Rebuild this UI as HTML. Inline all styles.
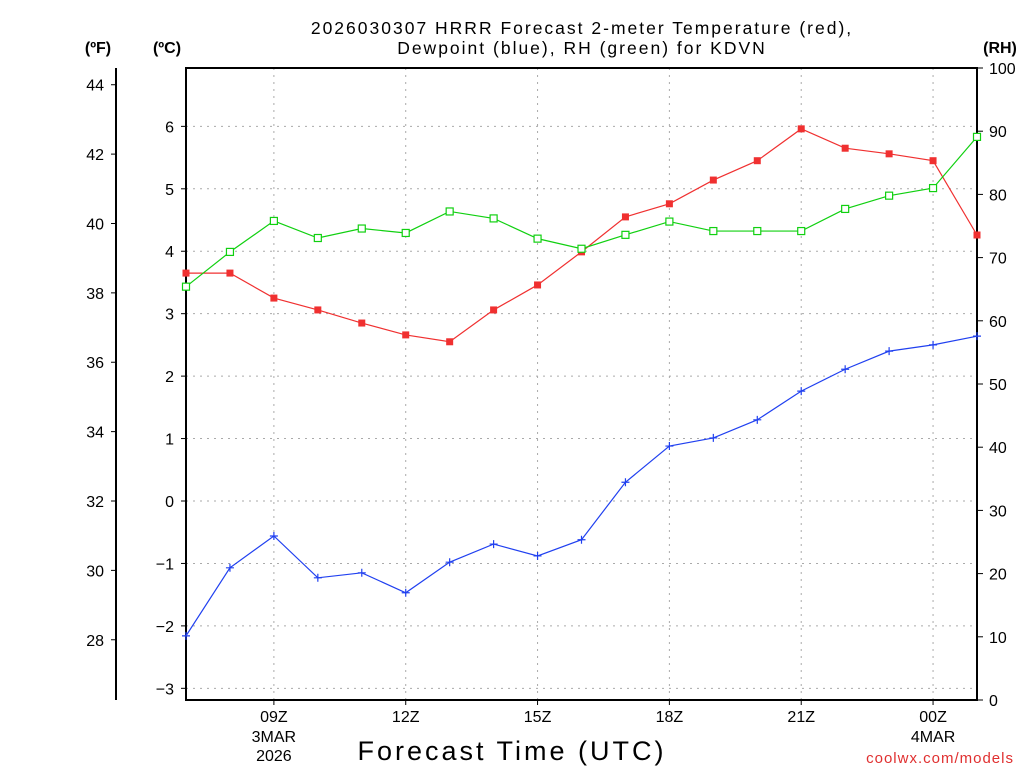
<!DOCTYPE html>
<html><head><meta charset="utf-8"><style>
body{margin:0;background:#fff;width:1024px;height:768px;overflow:hidden}
svg text{font-family:"Liberation Sans",sans-serif}
</style></head><body>
<svg id="chart" width="1024" height="768" xmlns="http://www.w3.org/2000/svg">
<g font-size="17.5" text-anchor="middle" fill="#000" letter-spacing="2">
<text x="582" y="34">2026030307 HRRR Forecast 2-meter Temperature (red),</text>
<text x="582" y="54">Dewpoint (blue), RH (green) for KDVN</text>
</g>
<text x="98" y="53" font-size="16" font-weight="bold" text-anchor="middle">(ºF)</text>
<text x="167" y="53" font-size="16" font-weight="bold" text-anchor="middle">(ºC)</text>
<text x="1000" y="53" font-size="16" font-weight="bold" text-anchor="middle">(RH)</text>
<g id="grid"></g>
<g id="axes"></g>
<g id="series"></g>
<text x="512" y="760" font-size="27" text-anchor="middle" letter-spacing="3">Forecast Time (UTC)</text>
<text x="1014" y="763" font-size="15" fill="#e03030" text-anchor="end" letter-spacing="1">coolwx.com/models</text>
</svg>
<script>
const hours=[7,8,9,10,11,12,13,14,15,16,17,18,19,20,21,22,23,24,25];
const tempC=[3.65,3.65,3.25,3.06,2.85,2.66,2.55,3.06,3.46,3.99,4.55,4.76,5.14,5.45,5.96,5.65,5.56,5.45,4.26];
const dewC=[-2.16,-1.07,-0.56,-1.23,-1.15,-1.47,-0.98,-0.69,-0.88,-0.62,0.30,0.88,1.01,1.30,1.76,2.11,2.40,2.50,2.64];
const rh=[65.4,70.9,75.8,73.1,74.6,73.9,77.3,76.2,73.0,71.4,73.6,75.7,74.2,74.2,74.2,77.7,79.8,81.0,89.1];
const cTicks=[-3,-2,-1,0,1,2,3,4,5,6];
const fTicks=[28,30,32,34,36,38,40,42,44];
const rhTicks=[0,10,20,30,40,50,60,70,80,90,100];
const xTickHours=[9,12,15,18,21,24];
const xTickLabels=["09Z","12Z","15Z","18Z","21Z","00Z"];
const xTickSub=[["3MAR","2026"],[],[],[],[],["4MAR"]];

const L=186,R=977,T=68,B=700;
const X=h=>L+(h-7)*(R-L)/18;
const YC=c=>501-c*62.44;
const YF=f=>YC((f-32)*5/9);
const YR=r=>B-r*(B-T)/100;
const NS="http://www.w3.org/2000/svg";
function mk(p,tag,a){const e=document.createElementNS(NS,tag);for(const k in a)e.setAttribute(k,a[k]);p.appendChild(e);return e;}
const grid=document.getElementById('grid'),axes=document.getElementById('axes'),ser=document.getElementById('series');
cTicks.forEach(c=>{
 const l=mk(grid,'line',{x1:L,x2:R,y1:YC(c),y2:YC(c),stroke:'#aaa','stroke-dasharray':'2,5'});
 
 
 mk(axes,'line',{x1:L-5,x2:L,y1:YC(c),y2:YC(c),stroke:'#000'});
 const t=mk(axes,'text',{x:L-12,y:YC(c)+6,'font-size':16,'text-anchor':'end'});t.textContent=c<0?'\u2212'+(-c):c;
 
 
});
xTickHours.forEach((h,i)=>{
 const l=mk(grid,'line',{x1:X(h),x2:X(h),y1:T,y2:B,stroke:'#aaa','stroke-dasharray':'2,5'});
 
 
 mk(axes,'line',{x1:X(h),x2:X(h),y1:B,y2:B+5,stroke:'#000'});
 const t=mk(axes,'text',{x:X(h),y:722,'font-size':16,'text-anchor':'middle'});t.textContent=xTickLabels[i];
 
 
 xTickSub[i].forEach((s,j)=>{const u=mk(axes,'text',{x:X(h),y:742+j*19,'font-size':16,'text-anchor':'middle'});u.textContent=s;});
});
fTicks.forEach(f=>{
 mk(axes,'line',{x1:111,x2:116,y1:YF(f),y2:YF(f),stroke:'#000'});
 const t=mk(axes,'text',{x:104,y:YF(f)+6,'font-size':16,'text-anchor':'end'});t.textContent=f;
 
 
});
mk(axes,'line',{x1:116,x2:116,y1:T,y2:B,stroke:'#000','stroke-width':2});
rhTicks.forEach(r=>{
 mk(axes,'line',{x1:R,x2:R+6,y1:YR(r),y2:YR(r),stroke:'#000'});
 const t=mk(axes,'text',{x:989,y:YR(r)+6,'font-size':16});t.textContent=r;
 
 
});
mk(axes,'rect',{x:L,y:T,width:R-L,height:B-T,fill:'none',stroke:'#000','stroke-width':2});

function line(vals,yf,col,name,marker){
 const g=mk(ser,'g',{});
 
 
 mk(g,'polyline',{points:vals.map((v,i)=>X(hours[i])+','+yf(v)).join(' '),fill:'none',stroke:col,'stroke-width':1.2});
 vals.forEach((v,i)=>{
  const x=X(hours[i]),y=yf(v);let m;
  if(marker==='fsq')m=mk(g,'rect',{x:x-3.5,y:y-3.5,width:7,height:7,fill:col});
  else if(marker==='osq')m=mk(g,'rect',{x:x-3.5,y:y-3.5,width:7,height:7,fill:'#fff',stroke:col,'stroke-width':1.2});
  else m=mk(g,'path',{d:`M${x-4},${y}H${x+4}M${x},${y-4}V${y+4}`,stroke:col,'stroke-width':1.2});
  
  
 });
}
line(tempC,YC,'#f03030','temperature-series','fsq');
line(dewC,YC,'#2040f0','dewpoint-series','plus');
line(rh,YR,'#10d010','rh-series','osq');
</script>
</body></html>
